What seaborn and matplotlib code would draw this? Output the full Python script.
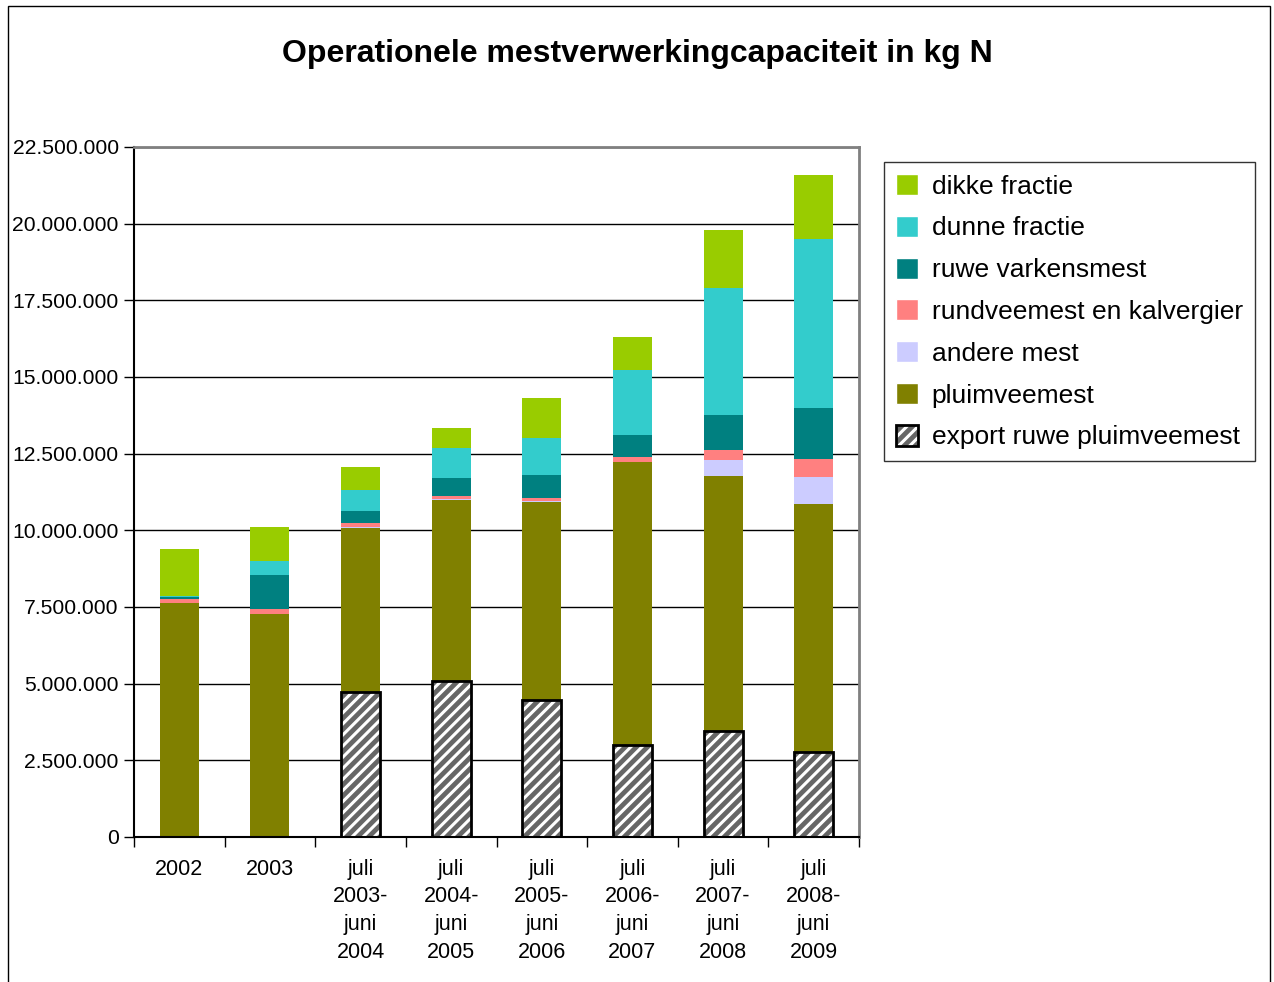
import matplotlib
matplotlib.use("Agg")
import matplotlib.pyplot as plt
import matplotlib.patches as mpatches
from matplotlib.legend_handler import HandlerTuple
from matplotlib.ticker import FuncFormatter, MultipleLocator
import numpy as np
import seaborn as sns

# values in miljoen kg N
periods = ["2002", "2003", "juli\n2003-\njuni\n2004", "juli\n2004-\njuni\n2005",
           "juli\n2005-\njuni\n2006", "juli\n2006-\njuni\n2007", "juli\n2007-\njuni\n2008",
           "juli\n2008-\njuni\n2009"]
export_ruwe = [0.0, 0.0, 4.74, 5.09, 4.46, 2.99, 3.47, 2.76]
pluimveemest = [7.63, 7.27, 5.32, 5.90, 6.47, 9.25, 8.31, 8.11]
andere_mest = [0.0, 0.0, 0.05, 0.02, 0.02, 0.0, 0.51, 0.88]
rundveemest = [0.12, 0.16, 0.13, 0.11, 0.11, 0.14, 0.34, 0.59]
ruwe_varkensmest = [0.06, 1.11, 0.39, 0.60, 0.73, 0.74, 1.13, 1.64]
dunne_fractie = [0.06, 0.46, 0.70, 0.96, 1.23, 2.11, 4.15, 5.51]
dikke_fractie = [1.52, 1.12, 0.74, 0.67, 1.28, 1.09, 1.87, 2.11]

sns.set_style("white")
plt.rcParams['font.family'] = ['Liberation Sans', 'DejaVu Sans']
plt.rcParams['text.color'] = 'black'
plt.rcParams['xtick.color'] = 'black'
plt.rcParams['ytick.color'] = 'black'
plt.rcParams['hatch.linewidth'] = 2.2

fig = plt.figure(figsize=(12.74, 9.82), dpi=100)
ax = fig.add_axes([134/1274, 145/982, 725/1274, 690/982])

layers = [
    ("export ruwe pluimveemest", export_ruwe, "#666666"),
    ("pluimveemest", pluimveemest, "#808000"),
    ("andere mest", andere_mest, "#CCCCFF"),
    ("rundveemest en kalvergier", rundveemest, "#FF8080"),
    ("ruwe varkensmest", ruwe_varkensmest, "#008080"),
    ("dunne fractie", dunne_fractie, "#33CCCC"),
    ("dikke fractie", dikke_fractie, "#99CC00"),
]

# cumulative sums, drawn tallest first so lower layers sit on top
cum = np.cumsum([np.array(v) * 1e6 for _, v, _ in layers], axis=0)
for i in range(len(layers) - 1, 0, -1):
    sns.barplot(x=periods, y=cum[i], color=layers[i][2], saturation=1,
                width=0.43, ax=ax, linewidth=0)

# export: grey with white diagonal stripes and black edge
sns.barplot(x=periods, y=cum[0], color="#666666", saturation=1, width=0.43,
            ax=ax, linewidth=0, hatch="///", edgecolor="white")
sns.barplot(x=periods, y=cum[0], fill=False, width=0.43, ax=ax,
            linewidth=2, edgecolor="black")

ax.set_xlim(-0.5, len(periods) - 0.5)
ax.set_ylim(0, 22.5e6)
ax.yaxis.set_major_locator(MultipleLocator(2.5e6))
ax.yaxis.set_major_formatter(FuncFormatter(lambda v, p: f"{int(v):,}".replace(",", ".")))
ax.grid(axis="y", color="black", linewidth=1)
ax.set_axisbelow(True)
ax.set_xlabel("")
ax.set_ylabel("")

ax.tick_params(axis="y", left=True, length=7, width=1, color="black",
               labelsize=15.2, pad=4)
ax.set_xticks(range(len(periods)))
ax.set_xticklabels(periods, fontsize=15.5, linespacing=1.42, va="top")
ax.tick_params(axis="x", bottom=False, pad=12)
ax.set_xticks(np.arange(-0.5, len(periods)), minor=True)
ax.tick_params(axis="x", which="minor", bottom=True, length=7, width=1, color="black")

for side in ["top", "right"]:
    ax.spines[side].set_color("#808080")
    ax.spines[side].set_linewidth(2)
for side in ["left", "bottom"]:
    ax.spines[side].set_color("black")
    ax.spines[side].set_linewidth(1.5)

fig.text(0.5, 1 - 54/982, "Operationele mestverwerkingcapaciteit in kg N",
         ha="center", va="center", fontsize=23, fontweight="bold")

handles = []
for name, _, col in reversed(layers):
    if name.startswith("export"):
        hatched = mpatches.Patch(facecolor="#666666", hatch="///",
                                 edgecolor="white", linewidth=0)
        outline = mpatches.Patch(fill=False, edgecolor="black", linewidth=2)
        handles.append((hatched, outline))
    else:
        handles.append(mpatches.Patch(facecolor=col))
labels = [name for name, _, _ in reversed(layers)]
leg = fig.legend(handles=handles, labels=labels, loc="upper left",
                 bbox_to_anchor=(884/1274, 1 - 162/982), fontsize=19,
                 handler_map={tuple: HandlerTuple(ndivide=1, pad=0)},
                 frameon=True, fancybox=False, edgecolor="black",
                 handlelength=0.85, handleheight=0.85, handletextpad=0.5,
                 labelspacing=0.65, borderpad=0.45, borderaxespad=0)
leg.get_frame().set_linewidth(1)

# outer chart border
fig.patches.append(mpatches.Rectangle((8/1274, -0.01), 1262/1274, 0.01 + 976/982,
                                      transform=fig.transFigure, fill=False,
                                      edgecolor="black", linewidth=1))

fig.savefig("out.png", dpi=100)
